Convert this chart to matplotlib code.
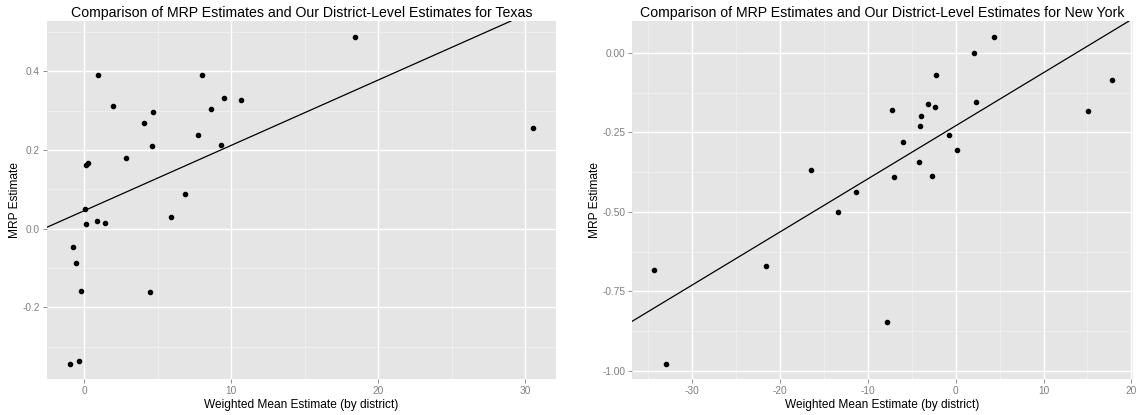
"""MRP estimates vs. district-level weighted mean estimates (Texas, New York)."""

import matplotlib.pyplot as plt
from matplotlib.ticker import MultipleLocator


# Texas
tx_x = [18.42, 0.96, 8.0, 9.53, 10.64, 1.98, 8.6, 4.67, 4.09, 7.73, 4.62,
        9.32, 2.82, 0.14, 0.27, 6.82, 0.07, 5.91, 0.89, 1.43, 0.09, -0.77,
        -0.55, -0.25, 4.5, -0.98, -0.36, 30.56]
tx_y = [0.488, 0.392, 0.391, 0.332, 0.328, 0.312, 0.304, 0.296, 0.270, 0.239,
        0.210, 0.214, 0.181, 0.163, 0.167, 0.088, 0.049, 0.029, 0.020, 0.015,
        0.013, -0.047, -0.087, -0.158, -0.161, -0.344, -0.336, 0.256]
tx_intercept = 0.046
tx_slope = 0.0166

# New York
ny_x = [-34.32, -32.99, -21.66, -16.43, -13.36, -11.31, 4.39, 2.05, -2.21,
        17.75, 2.31, -3.12, -2.39, -7.28, 15.05, -3.98, -4.03, -0.73, -6.03,
        0.15, -4.17, -2.73, -7.05, -7.82]
ny_y = [-0.683, -0.979, -0.669, -0.369, -0.499, -0.437, 0.051, 0.0, -0.069,
        -0.086, -0.155, -0.162, -0.169, -0.178, -0.182, -0.199, -0.229, -0.257,
        -0.281, -0.304, -0.344, -0.386, -0.391, -0.846]
ny_intercept = -0.229
ny_slope = 0.0167

TITLE_TX = "Comparison of MRP Estimates and Our District-Level Estimates for Texas"
TITLE_NY = "Comparison of MRP Estimates and Our District-Level Estimates for New York"
XLABEL = "Weighted Mean Estimate (by district)"
YLABEL = "MRP Estimate"

plt.rcParams["font.family"] = ["Liberation Sans", "DejaVu Sans"]
plt.rcParams["axes.unicode_minus"] = False

PANEL = "#E5E5E5"
MINOR = "#F2F2F2"
TICK = "#7F7F7F"


def style_axes(ax, xmajor, ymajor, xlim, ylim, yfmt):
    ax.set_facecolor(PANEL)
    ax.set_xlim(*xlim)
    ax.set_ylim(*ylim)
    ax.xaxis.set_major_locator(MultipleLocator(xmajor))
    ax.yaxis.set_major_locator(MultipleLocator(ymajor))
    ax.xaxis.set_minor_locator(MultipleLocator(xmajor / 2))
    ax.yaxis.set_minor_locator(MultipleLocator(ymajor / 2))
    ax.yaxis.set_major_formatter(yfmt)
    ax.grid(which="major", color="white", linewidth=1.0)
    ax.grid(which="minor", color=MINOR, linewidth=0.5)
    ax.set_axisbelow(True)
    for spine in ax.spines.values():
        spine.set_visible(False)
    ax.tick_params(which="major", colors=TICK, labelsize=7.3, length=3,
                   width=0.6, pad=2)
    ax.tick_params(which="minor", length=0)
    ax.set_xlabel(XLABEL, fontsize=8.6, labelpad=2)
    ax.set_ylabel(YLABEL, fontsize=8.6, labelpad=1)


fig = plt.figure(figsize=(11.39, 4.15), dpi=100)
ax_tx = fig.add_axes([0.0413, 0.0867, 0.4469, 0.8627])
ax_ny = fig.add_axes([0.5549, 0.0867, 0.4399, 0.8627])

style_axes(ax_tx, 10, 0.2, (-2.54, 32.1), (-0.382, 0.528), "{x:.1f}")
ax_tx.scatter(tx_x, tx_y, s=9, color="black", zorder=3)
ax_tx.axline((0, tx_intercept), slope=tx_slope, color="black", linewidth=0.9)
ax_tx.set_title(TITLE_TX, fontsize=10.2, pad=3)

style_axes(ax_ny, 10, 0.25, (-36.86, 20.2), (-1.026, 0.1007), "{x:.2f}")
ax_ny.scatter(ny_x, ny_y, s=9, color="black", zorder=3)
ax_ny.axline((0, ny_intercept), slope=ny_slope, color="black", linewidth=0.9)
ax_ny.set_title(TITLE_NY, fontsize=10.2, pad=3)

fig.savefig("out.png", dpi=100)
